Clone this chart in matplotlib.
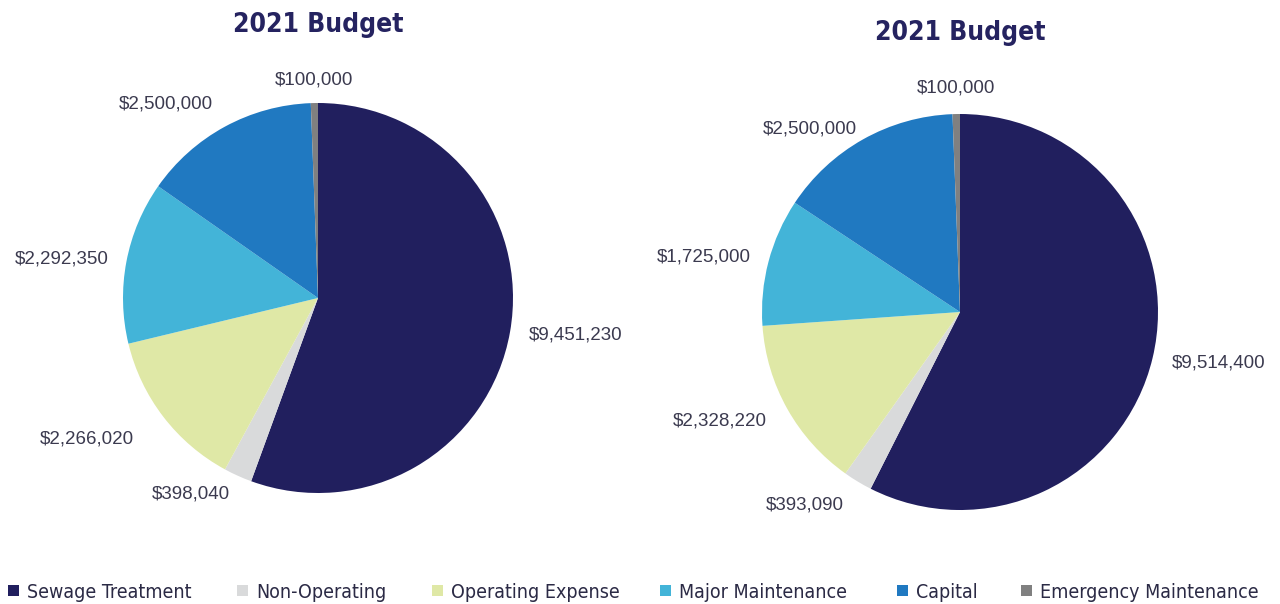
import matplotlib
matplotlib.use("Agg")
import matplotlib.pyplot as plt
import numpy as np

categories = ["Sewage Treatment", "Non-Operating", "Operating Expense",
              "Major Maintenance", "Capital", "Emergency Maintenance"]
budget_left = [9451230, 398040, 2266020, 2292350, 2500000, 100000]
budget_right = [9514400, 393090, 2328220, 1725000, 2500000, 100000]
titles = ["2021 Budget", "2021 Budget"]

colors = ["#211f5e", "#d9dadb", "#dfe8a6", "#43b4d8", "#2079c1", "#808080"]
label_color = "#3b3a4f"
title_color = "#252360"

fig = plt.figure(figsize=(12.8, 6.04), dpi=100)
W, H = 1280, 604


def draw_pie(cx, cy, r, values, dists, title, title_y):
    ax = fig.add_axes([(cx - r) / W, 1 - (cy + r) / H, 2 * r / W, 2 * r / H])
    wedges, _ = ax.pie(values, colors=colors, startangle=90, counterclock=False,
                       radius=1, wedgeprops=dict(linewidth=0))
    ax.set_xlim(-1, 1)
    ax.set_ylim(-1, 1)
    ax.set_aspect("equal")
    ax.axis("off")
    for w, v, d in zip(wedges, values, dists):
        ang = np.deg2rad((w.theta1 + w.theta2) / 2)
        x, y = d * np.cos(ang), d * np.sin(ang)
        if abs(np.cos(ang)) < 0.2:
            ha = "center"
        else:
            ha = "left" if x > 0 else "right"
        ax.text(x, y, f"${v:,}", ha=ha, va="center", fontsize=13.5,
                color=label_color, family="Liberation Sans", clip_on=False)
    fig.text(cx / W, 1 - title_y / H, title, ha="center", va="center",
             fontsize=19, fontweight="bold", fontstretch="condensed",
             color=title_color, family="DejaVu Sans")
    return wedges


wl = draw_pie(318, 298, 195, budget_left, [1.1, 1.1, 1.19, 1.09, 1.13, 1.12],
              titles[0], 25)
draw_pie(960, 312, 198, budget_right, [1.1, 1.14, 1.12, 1.09, 1.06, 1.13],
         titles[1], 33)

# one legend entry per category, spread along the bottom
legend_x = [8, 237, 432, 660, 897, 1021]
for w, cat, lx in zip(wl, categories, legend_x):
    leg = fig.legend([w], [cat], loc="center left",
                     bbox_to_anchor=(lx / W, 1 - 592 / H), frameon=False,
                     borderpad=0, borderaxespad=0, handlelength=0.55,
                     handleheight=0.55, handletextpad=0.45,
                     prop=dict(family="DejaVu Sans", stretch="condensed",
                               size=14))
    for t in leg.get_texts():
        t.set_color("#2b2a45")

fig.savefig("out.png", dpi=100)
